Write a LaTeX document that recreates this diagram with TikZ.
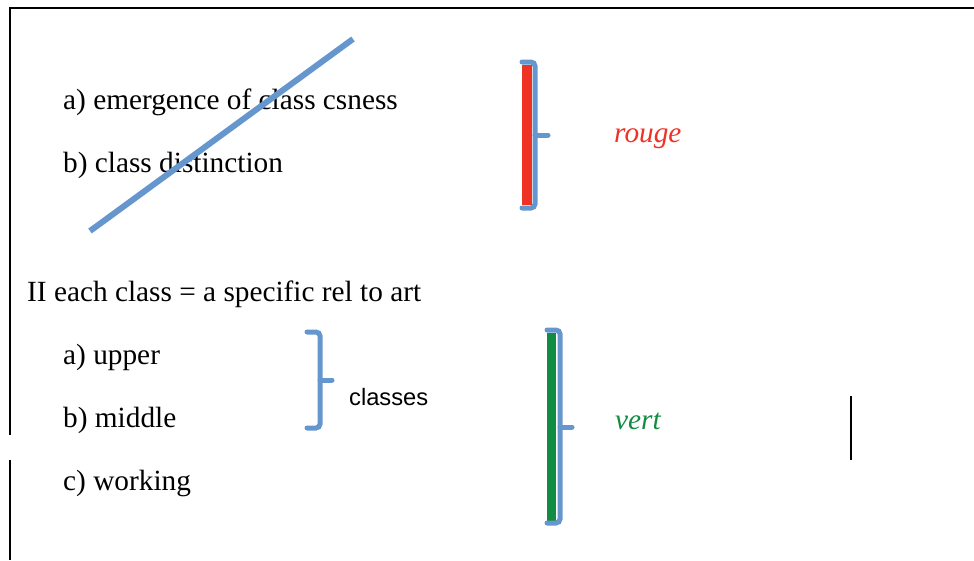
\documentclass[tikz,border=0pt]{standalone}
\usepackage{fontspec}
\setmainfont{Liberation Serif}
\newfontfamily\labelsans{Liberation Sans}
\definecolor{lineblue}{RGB}{102,150,206}
\definecolor{rougered}{RGB}{238,50,36}
\definecolor{vertgreen}{RGB}{18,140,66}
\tikzset{
  item/.style={anchor=base west, inner sep=0pt, font=\fontsize{29.3}{35}\selectfont},
  brace/.style={draw=lineblue, line width=5pt, rounded corners=4pt, line cap=round},
  frame/.style={draw=black, line width=1.5pt},
}

\begin{document}
\begin{tikzpicture}[x=1pt, y=-1pt]
  \useasboundingbox (0,0) rectangle (974,560);
  % frame pieces
  \draw[frame] (974,8) -- (10,8) -- (10,435);
  \draw[frame] (10,460) -- (10,560);
  \draw[frame] (851,396) -- (851,460);
  % part one
  \node[item] (emerge) at (63,109) {a) emergence of class csness};
  \node[item] (distinct) at (63,172) {b) class distinction};
  \draw[lineblue, line width=6pt] (90,231) -- (353,39);
  \fill[rougered] (522,65) rectangle (532,205);
  \draw[brace] (522,62) -- (535,62) -- (535,208) -- (522,208);
  \draw[brace] (535,135) -- (548,135);
  \node[item, text=rougered] (rouge) at (614,142) {\itshape rouge};
  % part two
  \node[item] (rel) at (27,301) {II each class = a specific rel to art};
  \node[item] (upper) at (63,364) {a) upper};
  \node[item] (middle) at (63,427) {b) middle};
  \node[item] (working) at (63,490) {c) working};
  \draw[brace] (307,332) -- (320,332) -- (320,428) -- (307,428);
  \draw[brace] (320,380) -- (332,380);
  \node[anchor=base west, inner sep=0pt, font=\labelsans\fontsize{23.7}{28}\selectfont] (classes) at (349,405) {classes};
  \fill[vertgreen] (547,333) rectangle (556,522);
  \draw[brace] (547,330) -- (560,330) -- (560,523) -- (547,523);
  \draw[brace] (560,427) -- (572,427);
  \node[item, text=vertgreen] (vert) at (615,429) {\itshape vert};
\end{tikzpicture}
\end{document}
